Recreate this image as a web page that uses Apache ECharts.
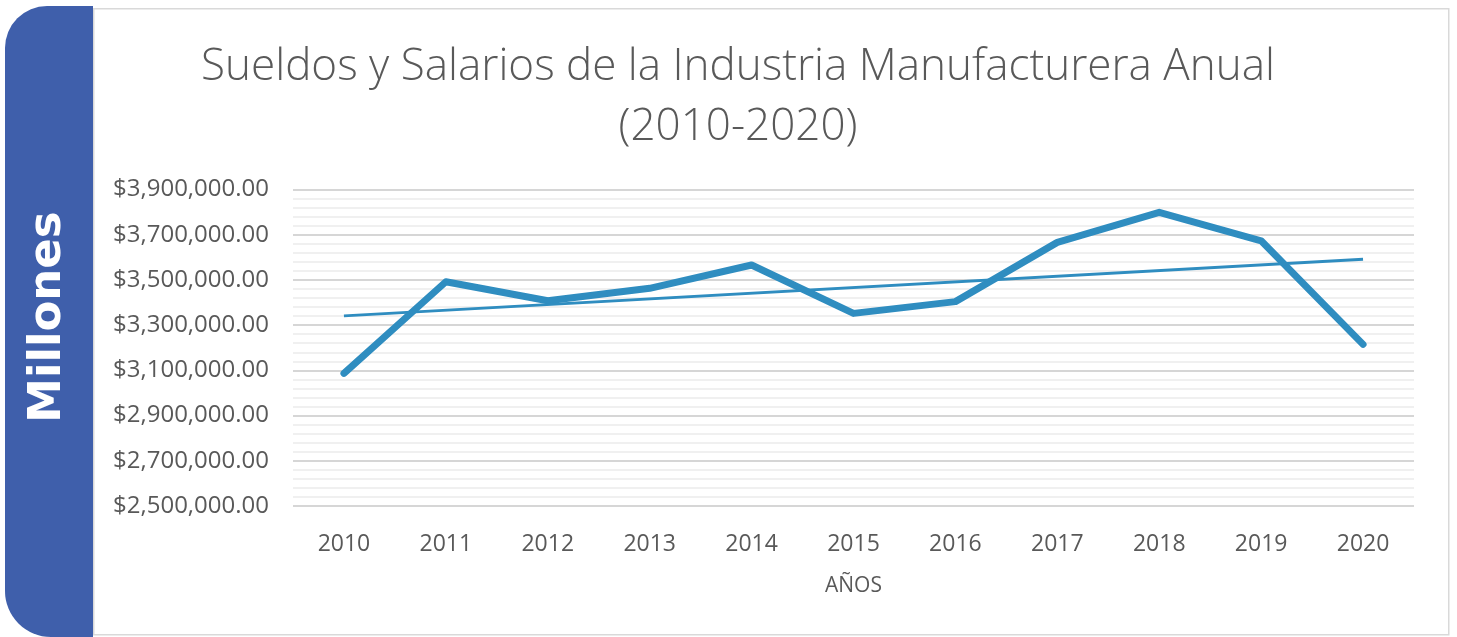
<!DOCTYPE html>
<html>
<head>
<meta charset="utf-8">
<script src="https://cdn.jsdelivr.net/npm/echarts@6/dist/echarts.min.js"></script>
<style>
html,body{margin:0;padding:0;background:#fff;}
#chart{width:1457px;height:637px;}
</style>
</head>
<body>
<div id="chart"></div>
<script>
// ---- data ----
const years = ['2010','2011','2012','2013','2014','2015','2016','2017','2018','2019','2020'];
const wages = [3087000, 3492000, 3408000, 3463000, 3566000, 3352000, 3404000, 3666000, 3799000, 3673000, 3215000];
const trendYears = ['2010','2020'];
const trendValues = [3341000, 3592000];
const titleLines = ['Sueldos y Salarios de la Industria Manufacturera Anual', '(2010-2020)'];
const yMin = 2500000, yMax = 3900000, yStep = 200000;
const sideLabel = 'Millones';
const xAxisName = 'AÑOS';

const lineColor = '#2f8dc0';
const textColor = '#595959';

const chart = echarts.init(document.getElementById('chart'), null, {renderer:'canvas'});
const fmt = v => '$' + Number(v).toLocaleString('en-US', {minimumFractionDigits:2, maximumFractionDigits:2});

chart.setOption({
  animation: false,
  backgroundColor: '#ffffff',
  graphic: [
    { type:'rect', left:93, top:8, z:-10,
      shape:{width:1355, height:626},
      style:{fill:'#ffffff', stroke:'#d9d9d9', lineWidth:1.5} },
    { type:'rect', left:5, top:6, z:1,
      shape:{width:88, height:631, r:[42,0,0,46]},
      style:{fill:'#3f5fab'} },
    { type:'text', x:48, y:317, rotation:Math.PI/2, z:2,
      style:{text:sideLabel, fill:'#ffffff', font:'bold 45px "DejaVu Sans"',
             textAlign:'center', textVerticalAlign:'middle'} },
    { type:'text', x:738, y:67, z:2,
      style:{text:titleLines[0], fill:textColor, font:'300 44px "Open Sans"',
             textAlign:'center', textVerticalAlign:'middle'} },
    { type:'text', x:738, y:127, z:2,
      style:{text:titleLines[1], fill:textColor, font:'300 44px "Open Sans"',
             textAlign:'center', textVerticalAlign:'middle'} }
  ],
  grid: { left:293, right:43, top:189.5, bottom:131, containLabel:false },
  xAxis: {
    type:'category', data: years, boundaryGap:true,
    axisLine:{show:false}, axisTick:{show:false},
    axisLabel:{color:textColor, fontFamily:'Open Sans', fontSize:23, margin:27},
    name: xAxisName, nameLocation:'middle', nameGap:70,
    nameTextStyle:{color:textColor, fontFamily:'Open Sans', fontSize:21}
  },
  yAxis: {
    type:'value', min:yMin, max:yMax, interval:yStep,
    axisLine:{show:false}, axisTick:{show:false},
    axisLabel:{color:textColor, fontFamily:'Open Sans', fontSize:24, margin:24, formatter: fmt},
    splitLine:{show:true, lineStyle:{color:'#d6d6d6', width:2}},
    minorTick:{show:false, splitNumber:5},
    minorSplitLine:{show:true, lineStyle:{color:'#ececec', width:1.5}}
  },
  series: [
    { type:'line', data: wages, showSymbol:false, symbol:'none',
      lineStyle:{color:lineColor, width:7, cap:'round', join:'round'}, z:3 },
    { type:'line', data: trendYears.map((y,i)=>[y, trendValues[i]]), showSymbol:false, symbol:'none',
      lineStyle:{color:lineColor, width:3}, z:4 }
  ]
});
</script>
</body>
</html>
